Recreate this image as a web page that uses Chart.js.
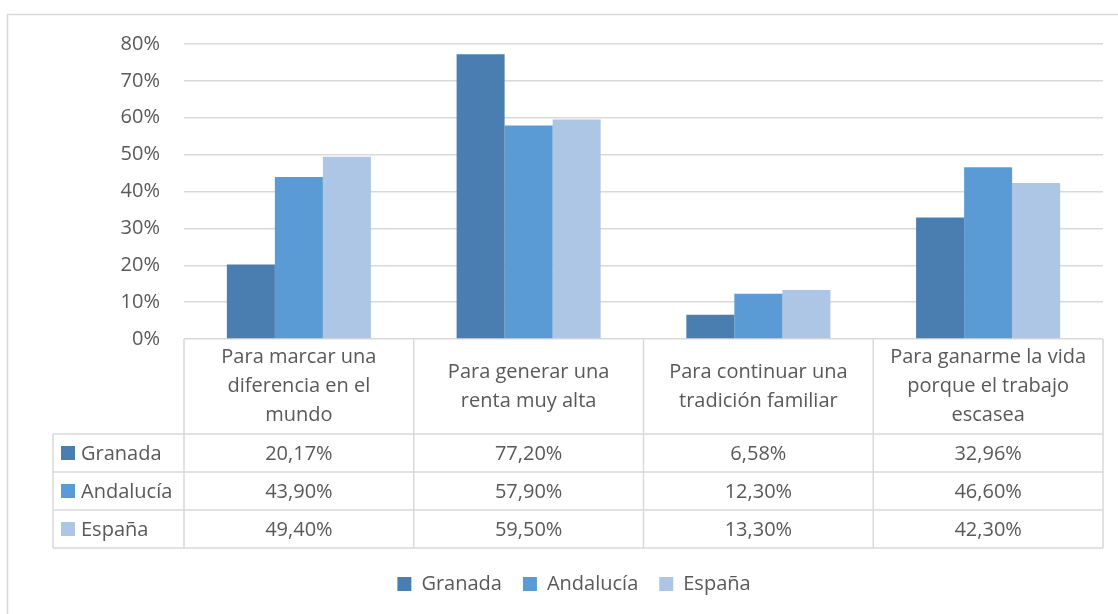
<!DOCTYPE html>
<html>
<head>
<meta charset="utf-8">
<script src="https://cdn.jsdelivr.net/npm/chart.js@4.4.0/dist/chart.umd.min.js"></script>
<style>
  html, body { margin: 0; padding: 0; background: #fff; }
  #wrap { width: 1118px; height: 614px; position: relative; }
</style>
</head>
<body>
<div id="wrap"><canvas id="chart"></canvas></div>
<script>
// Chart data
const categories = [
  ["Para marcar una", "diferencia en el", "mundo"],
  ["Para generar una", "renta muy alta"],
  ["Para continuar una", "tradición familiar"],
  ["Para ganarme la vida", "porque el trabajo", "escasea"],
]
const seriesNames = ["Granada", "Andalucía", "España"]
const granada = [20.17, 77.2, 6.58, 32.96]
const andalucia = [43.9, 57.9, 12.3, 46.6]
const espana = [49.4, 59.5, 13.3, 42.3]
const yMax = 80
const yStep = 10

const colors = ["#4a7eb0", "#5b9bd5", "#adc6e6"]
const textColor = "#595959"
const lineColor = "#d9d9d9"
const fontFamily = "'Open Sans', sans-serif"

const fmt = (v) => v.toFixed(2).replace(".", ",") + "%"

// Frame round the whole chart (only top and left edges are visible)
const framePlugin = {
  id: "frame",
  beforeDraw(chart) {
    const ctx = chart.ctx
    ctx.save()
    ctx.fillStyle = "#ffffff"
    ctx.fillRect(0, 0, chart.width, chart.height)
    ctx.strokeStyle = lineColor
    ctx.lineWidth = 1.5
    ctx.beginPath()
    ctx.moveTo(7.5, chart.height)
    ctx.lineTo(7.5, 14.5)
    ctx.lineTo(chart.width, 14.5)
    ctx.stroke()
    ctx.restore()
  },
}

// Data table under the plot (Excel style)
const tablePlugin = {
  id: "dataTable",
  afterDraw(chart) {
    const { ctx, chartArea } = chart
    const x = chart.scales.x
    const labels = chart.data.labels
    const n = labels.length
    const colW = (x.right - x.left) / n
    const top = chartArea.bottom
    const headH = 95
    const rowH = 38
    const leftX = 53
    const bottom = top + headH + rowH * chart.data.datasets.length

    ctx.save()
    ctx.strokeStyle = lineColor
    ctx.lineWidth = 1.5
    ctx.beginPath()
    for (let r = 0; r <= chart.data.datasets.length; r++) {
      const y = top + headH + r * rowH
      ctx.moveTo(leftX, y)
      ctx.lineTo(x.right, y)
    }
    for (let i = 0; i <= n; i++) {
      const xx = x.left + i * colW
      ctx.moveTo(xx, top)
      ctx.lineTo(xx, bottom)
    }
    ctx.moveTo(leftX, top + headH)
    ctx.lineTo(leftX, bottom)
    ctx.stroke()

    ctx.font = "20px " + fontFamily
    ctx.fillStyle = textColor
    ctx.textAlign = "center"
    ctx.textBaseline = "middle"
    labels.forEach((lines, i) => {
      const cx = x.getPixelForValue(i)
      const cy = top + headH / 2
      lines.forEach((ln, k) => {
        ctx.fillText(ln, cx, cy + (k - (lines.length - 1) / 2) * 29)
      })
    })

    chart.data.datasets.forEach((ds, r) => {
      const cy = top + headH + r * rowH + rowH / 2
      ctx.fillStyle = ds.backgroundColor
      ctx.fillRect(61, cy - 7, 14, 14)
      ctx.fillStyle = textColor
      ctx.textAlign = "left"
      ctx.fillText(ds.label, 81, cy + 1)
      ctx.textAlign = "center"
      ds.data.forEach((v, i) => {
        ctx.fillText(fmt(v), x.getPixelForValue(i), cy + 1)
      })
    })
    ctx.restore()
  },
}

const seriesValues = [granada, andalucia, espana]

new Chart(document.getElementById("chart"), {
  type: "bar",
  data: {
    labels: categories,
    datasets: seriesNames.map((name, i) => ({
      label: name,
      data: seriesValues[i],
      backgroundColor: colors[i],
      borderWidth: 0,
      categoryPercentage: 0.627,
      barPercentage: 1,
    })),
  },
  options: {
    responsive: true,
    maintainAspectRatio: false,
    animation: false,
    layout: { padding: { top: 44, right: 15, bottom: 10, left: 45 } },
    plugins: {
      tooltip: { enabled: false },
      legend: {
        position: "bottom",
        labels: {
          color: textColor,
          font: { family: fontFamily, size: 20 },
          boxWidth: 14,
          boxHeight: 14,
          padding: 21,
        },
      },
    },
    scales: {
      x: {
        ticks: { display: false },
        grid: { display: false },
        border: { display: false },
        afterFit(scale) {
          scale.height = 214
        },
      },
      y: {
        min: 0,
        max: yMax,
        ticks: {
          stepSize: yStep,
          padding: 24,
          color: textColor,
          font: { family: fontFamily, size: 20 },
          callback: (v) => v + "%",
        },
        grid: { color: lineColor, lineWidth: 1.5, drawTicks: false },
        border: { display: false },
        afterFit(scale) {
          scale.width = 139
        },
      },
    },
  },
  plugins: [framePlugin, tablePlugin],
})
</script>
</body>
</html>
